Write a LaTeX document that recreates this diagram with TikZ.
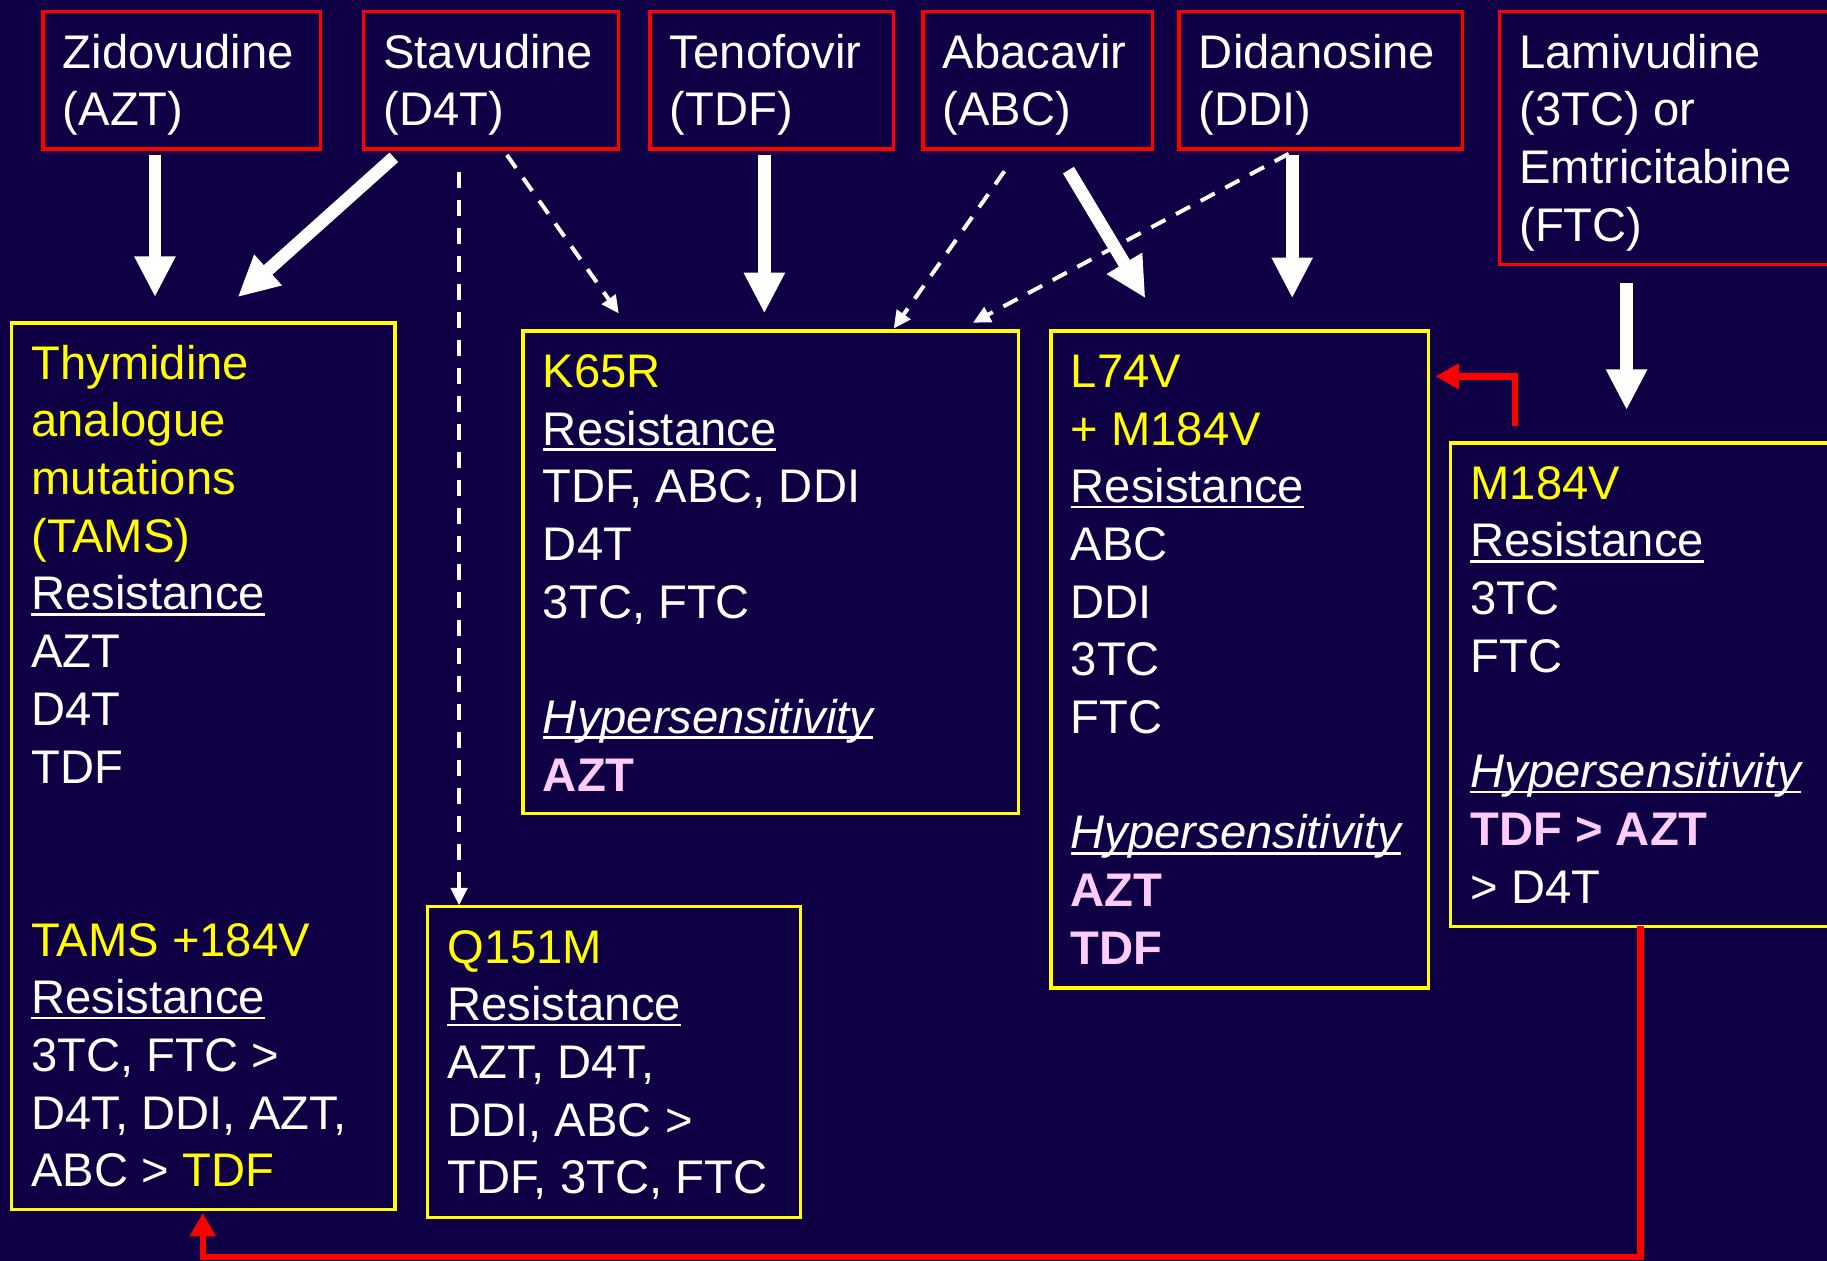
\documentclass[tikz,border=0pt]{standalone}
\usepackage{fontspec}
\setmainfont{Liberation Sans}
\usetikzlibrary{arrows.meta}
\definecolor{slide}{RGB}{15,0,70}
\definecolor{boxred}{RGB}{255,0,0}
\definecolor{boxyel}{RGB}{255,255,0}
\definecolor{hyper}{RGB}{255,204,255}
\newcommand\topstrut{\rule{0pt}{1em}}
\newcommand\yel[1]{\textcolor{boxyel}{#1}}
\newcommand\hyp[1]{\textcolor{hyper}{\bfseries #1}}
\newcommand\undl[1]{\leavevmode\setbox0=\hbox{#1}\rlap{\rule[-0.12em]{\wd0}{0.06em}}\box0}
\tikzset{
  drug/.style={draw=boxred, line width=3pt, rectangle, inner sep=0pt, outer sep=0pt},
  mut/.style={draw=boxyel, line width=3pt, rectangle, inner sep=0pt, outer sep=0pt},
  txt/.style={anchor=north west, inner sep=0pt, outer sep=0pt, align=left, text=white,
    font=\fontsize{40.5}{49.5}\selectfont},
  fat/.style={white, line width=11pt, -{Triangle[length=35pt,width=33pt]}},
  weak/.style={white, line width=3.4pt, dash pattern=on 13.7pt off 10.3pt, -{Triangle[length=15pt,width=14pt]}},
  redarr/.style={boxred, line width=5.5pt, -{Triangle[length=20pt,width=21pt]}}
}
\begin{document}
\begin{tikzpicture}[x=1pt, y=-1pt, line join=miter]
  \useasboundingbox (0,0) rectangle (1568,1082);
  \fill[slide] (0,0) rectangle (1568,1082);
  \clip (0,0) rectangle (1568,1082);
  % the drugs, in red boxes along the top
  \node[drug, minimum width=238pt, minimum height=118pt] (azt) at (156,69) {};
  \node[drug, minimum width=219pt, minimum height=118pt] (d4t) at (421.5,69) {};
  \node[drug, minimum width=209pt, minimum height=118pt] (tdf) at (662.5,69) {};
  \node[drug, minimum width=197pt, minimum height=118pt] (abc) at (890.5,69) {};
  \node[drug, minimum width=243pt, minimum height=118pt] (ddi) at (1133.5,69) {};
  \node[drug, minimum width=313pt, minimum height=217pt] (lam) at (1443.5,118.5) {};
  \node[txt] (azt-t) at ([shift={(17,8)}]azt.north west) {\topstrut Zidovudine\\(AZT)};
  \node[txt] (d4t-t) at ([shift={(17,8)}]d4t.north west) {\topstrut Stavudine\\(D4T)};
  \node[txt] (tdf-t) at ([shift={(17,8)}]tdf.north west) {\topstrut Tenofovir\\(TDF)};
  \node[txt] (abc-t) at ([shift={(17,8)}]abc.north west) {\topstrut Abacavir\\(ABC)};
  \node[txt] (ddi-t) at ([shift={(17,8)}]ddi.north west) {\topstrut Didanosine\\(DDI)};
  \node[txt] (lam-t) at ([shift={(17,8)}]lam.north west) {\topstrut Lamivudine\\(3TC) or\\Emtricitabine\\(FTC)};
  % the mutations, in yellow boxes
  \node[mut, minimum width=329pt, minimum height=761pt] (tams) at (174.5,657.5) {};
  \node[mut, minimum width=425pt, minimum height=414pt] (k65) at (661.5,491) {};
  \node[mut, minimum width=324pt, minimum height=564pt] (l74) at (1064,566) {};
  \node[mut, minimum width=355pt, minimum height=415pt] (m184) at (1422.5,587.5) {};
  \node[mut, minimum width=320pt, minimum height=267pt] (q151) at (527,911.5) {};
  \node[txt] (tams-t) at ([shift={(17,8)}]tams.north west) {\topstrut\yel{Thymidine}\\\yel{analogue}\\
    \yel{mutations}\\\yel{(TAMS)}\\\undl{Resistance}\\AZT\\D4T\\TDF\\[99pt]
    \yel{TAMS +184V}\\\undl{Resistance}\\3TC, FTC >\\D4T, DDI, AZT,\\ABC > \yel{TDF}};
  \node[txt] (k65-t) at ([shift={(17,8)}]k65.north west) {\topstrut\yel{K65R}\\\undl{Resistance}\\
    TDF, ABC, DDI\\D4T\\3TC, FTC\\[49.5pt]\undl{\itshape Hypersensitivity}\\\hyp{AZT}};
  \node[txt] (l74-t) at ([shift={(17,8)}]l74.north west) {\topstrut\yel{L74V}\\\yel{+ M184V}\\
    \undl{Resistance}\\ABC\\DDI\\3TC\\FTC\\[49.5pt]\undl{\itshape Hypersensitivity}\\\hyp{AZT}\\\hyp{TDF}};
  \node[txt] (m184-t) at ([shift={(17,8)}]m184.north west) {\topstrut\yel{M184V}\\\undl{Resistance}\\
    3TC\\FTC\\[49.5pt]\undl{\itshape Hypersensitivity}\\\hyp{TDF > AZT}\\> D4T};
  \node[txt] (q151-t) at ([shift={(17,8)}]q151.north west) {\topstrut\yel{Q151M}\\\undl{Resistance}\\
    AZT, D4T,\\DDI, ABC >\\TDF, 3TC, FTC};
  % which drug selects which mutation
  \draw[fat] ([shift={(-23,5)}]azt.south) -- ([shift={(-41.5,-22)}]tams.north);
  \draw[fat] ([shift={(-83.5,7)}]d4t.south) -- ([shift={(29.5,-22)}]tams.north);
  \draw[weak] ([shift={(-27.5,20)}]d4t.south) -- ([shift={(-133,-1)}]q151.north);
  \draw[weak] ([shift={(13.5,5)}]d4t.south) -- ([shift={(-130.5,-15)}]k65.north);
  \draw[fat] ([shift={(-6.5,5)}]tdf.south) -- ([shift={(-5.5,-15)}]k65.north);
  \draw[weak] ([shift={(-28.5,19)}]abc.south) -- ([shift={(105.5,-2)}]k65.north);
  \draw[fat] ([shift={(26.5,18)}]abc.south) -- ([shift={(-81,-28)}]l74.north);
  \draw[weak] ([shift={(-27.5,4)}]ddi.south) -- ([shift={(173.5,-7)}]k65.north);
  \draw[fat] ([shift={(-24.5,5)}]ddi.south) -- ([shift={(45,-28)}]l74.north);
  \draw[fat] ([shift={(-47.5,16)}]lam.south) -- ([shift={(-26.5,-28)}]m184.north);
  % M184V back to the others
  \draw[redarr] ([shift={(-122.5,-14)}]m184.north) |- ([shift={(6,-243)}]l74.east);
  \draw[redarr] ([shift={(-14.5,0)}]m184.south) -- ++(0,284) -| ([shift={(-0.5,3)}]tams.south);
\end{tikzpicture}
\end{document}
